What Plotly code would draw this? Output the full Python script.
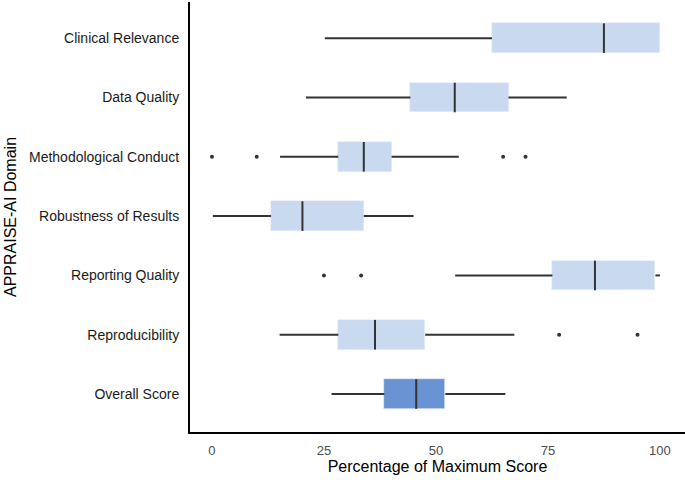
import plotly.graph_objects as go

# Domains, top to bottom
domains = ["Clinical Relevance", "Data Quality", "Methodological Conduct",
           "Robustness of Results", "Reporting Quality", "Reproducibility",
           "Overall Score"]

# Box statistics (% of maximum score)
low = [25.2, 21.0, 15.2, 0.2, 54.3, 15.1, 26.7]
q1 = [62.5, 44.3, 28.2, 13.2, 76.0, 28.2, 38.5]
median = [87.5, 54.2, 33.9, 20.2, 85.5, 36.4, 45.6]
q3 = [100.0, 66.2, 40.1, 33.9, 99.0, 47.6, 52.1]
high = [100.0, 79.2, 55.1, 45.0, 100.0, 67.5, 65.5]

# Outliers: (domain index, value)
outlier_domain = [2, 2, 2, 2, 4, 4, 5, 5]
outlier_value = [0.0, 10.0, 65.0, 70.0, 25.0, 33.3, 77.5, 95.0]

light = "#c9d9f0"
dark = "#6a93d3"
line_col = "#333333"
box_w = 0.5

pos = list(range(len(domains)))
fills = [light] * (len(domains) - 1) + [dark]

fig = go.Figure()

# Whiskers
wx, wy = [], []
for i in pos:
    wx += [low[i], q1[i], None, q3[i], high[i], None]
    wy += [i, i, None, i, i, None]
fig.add_trace(go.Scatter(x=wx, y=wy, mode="lines",
                         line=dict(color=line_col, width=2),
                         hoverinfo="skip", showlegend=False))

# Boxes (interquartile range)
fig.add_trace(go.Bar(
    y=pos, x=[q3[i] - q1[i] for i in pos], base=q1, orientation="h",
    width=box_w, marker=dict(color=fills, line=dict(color="#e8eef8", width=0.6)),
    showlegend=False,
))

# Medians
mx, my = [], []
for i in pos:
    mx += [median[i], median[i], None]
    my += [i - box_w / 2, i + box_w / 2, None]
fig.add_trace(go.Scatter(x=mx, y=my, mode="lines",
                         line=dict(color=line_col, width=2),
                         hoverinfo="skip", showlegend=False))

# Outliers
fig.add_trace(go.Scatter(x=outlier_value, y=outlier_domain, mode="markers",
                         marker=dict(color=line_col, size=4),
                         showlegend=False))

fig.update_layout(
    width=685, height=480,
    margin=dict(l=190, r=0, t=2, b=48),
    paper_bgcolor="white", plot_bgcolor="white",
    font=dict(family="Liberation Sans, Arial, sans-serif", size=14, color="black"),
    bargap=0,
)
fig.update_xaxes(
    range=[-4.9, 105.6], tickvals=[0, 25, 50, 75, 100],
    showgrid=False, zeroline=False,
    showline=True, linecolor="black", linewidth=2,
    tickfont=dict(size=13, color="#4d4d4d"), ticks="", ticklabelstandoff=5,
    title=dict(text="Percentage of Maximum Score", font=dict(size=16), standoff=4),
)
fig.update_yaxes(
    range=[6.64, -0.61], tickvals=pos, ticktext=domains,
    showgrid=False, zeroline=False,
    showline=True, linecolor="black", linewidth=2,
    tickfont=dict(size=14, color="#1a1a1a"), ticks="", ticklabelstandoff=6,
    title=dict(text="APPRAISE-AI Domain", font=dict(size=16), standoff=8),
)

# drop the page's default body margin so the figure sits at the window corner
fig.write_html("out.html", config={"displayModeBar": False},
               post_script="document.body.style.margin='0';")
